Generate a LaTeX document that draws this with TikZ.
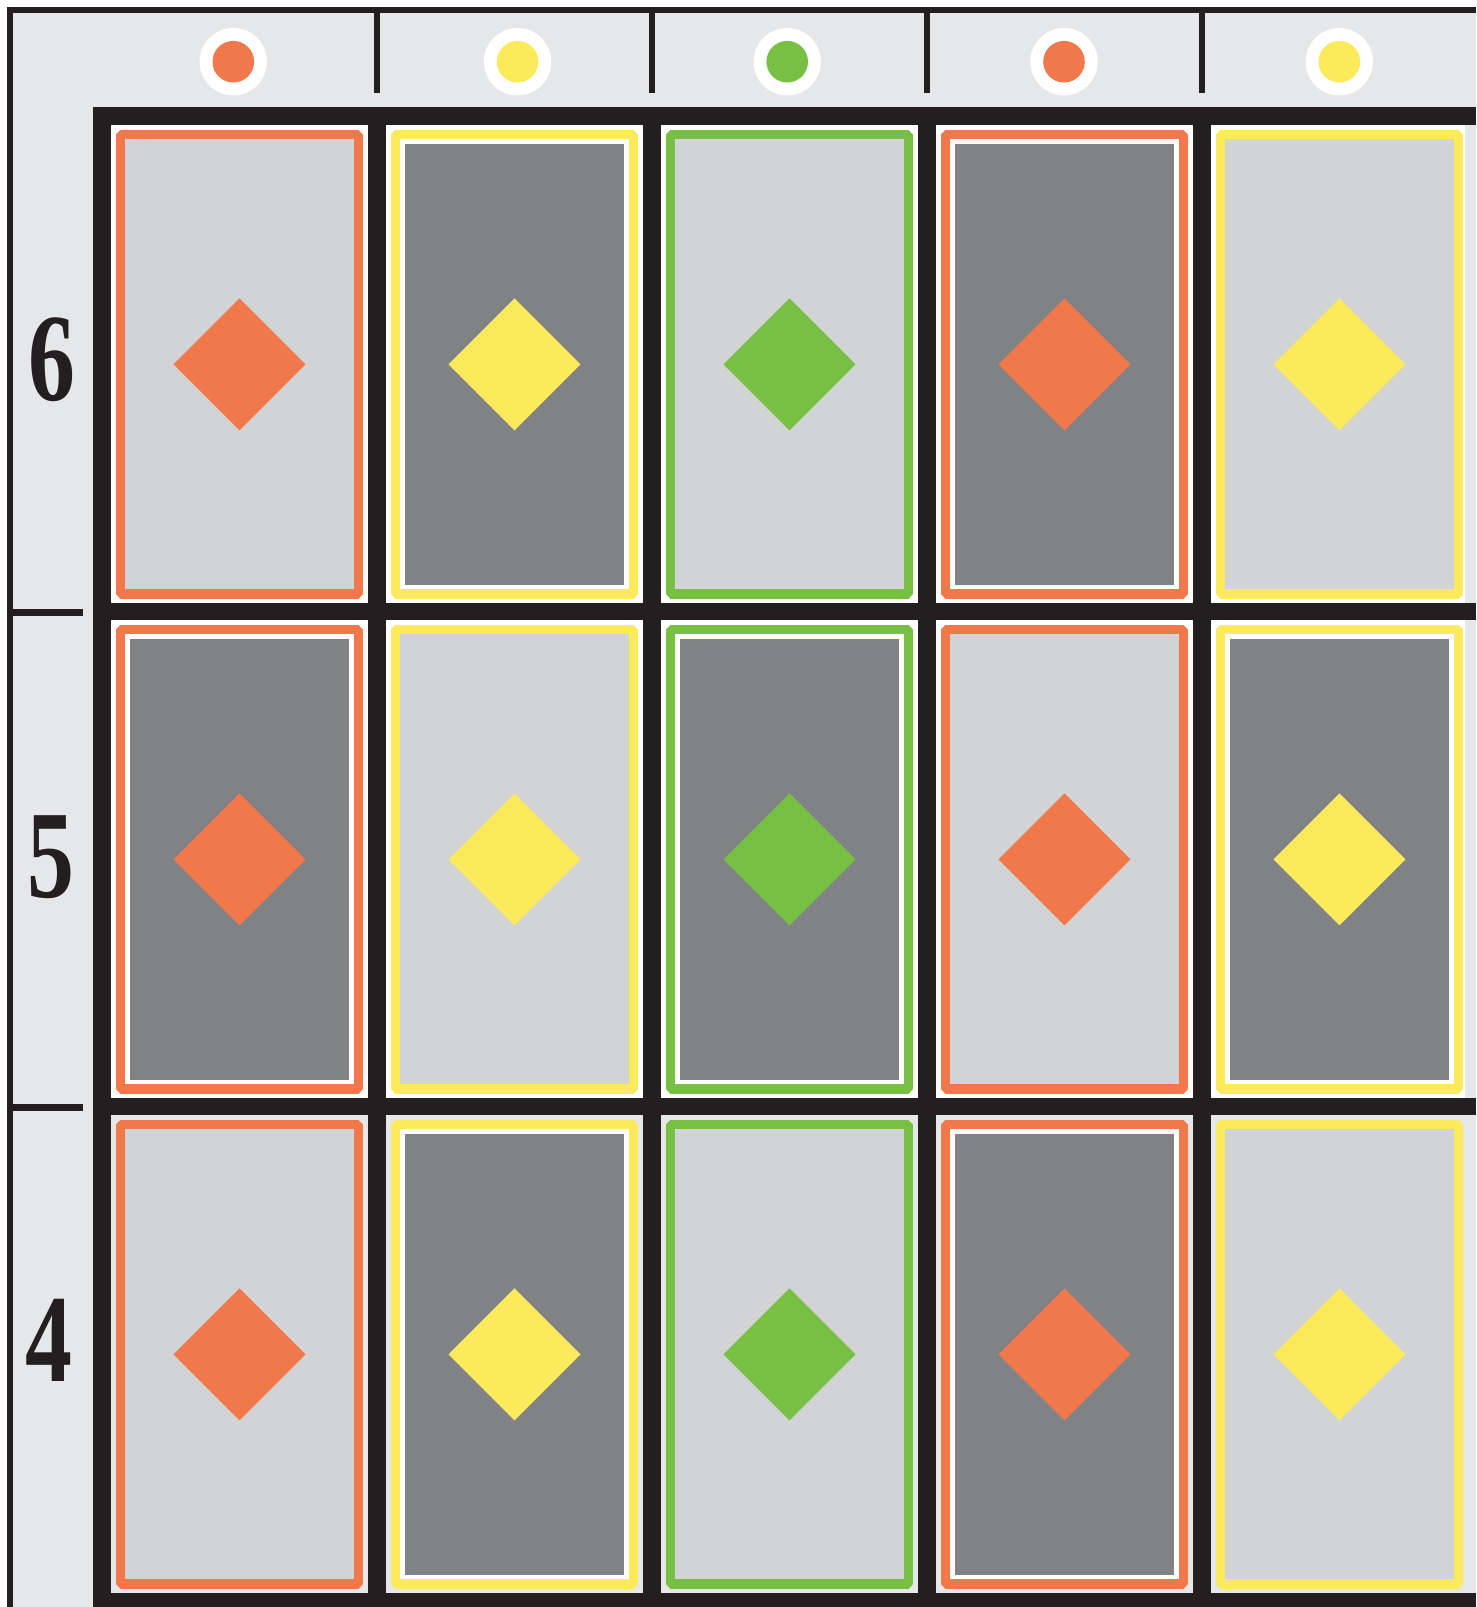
\documentclass[tikz,border=0pt]{standalone}
\usepackage{fontspec}
\newfontfamily\labfont{Liberation Serif}
\definecolor{bgl}{HTML}{E6E7E8}
\definecolor{blk}{HTML}{231F20}
\definecolor{lgc}{HTML}{D1D3D4}
\definecolor{dgc}{HTML}{808285}
\definecolor{cO}{HTML}{F0784A}
\definecolor{cY}{HTML}{FBEB5C}
\definecolor{cG}{HTML}{77C044}
\tikzset{
  rowlabel/.style={font=\labfont\bfseries\fontsize{125}{125}\selectfont, text=blk, inner sep=0pt, xscale=0.75},
  ringstyle/.style={circle, fill=white, minimum size=67.4pt, inner sep=0pt},
  dotstyle/.style={circle, minimum size=41.6pt, inner sep=0pt},
  tick/.style={fill=blk}
}
\begin{document}
\begin{tikzpicture}[x=1pt,y=-1pt]
\useasboundingbox (0,0) rectangle (1476,1607);
\fill[white] (0,0) rectangle (1476,1607);
\fill[bgl] (7,7) rectangle (1476,1607);
% outer frame lines
\fill[blk] (7,7) rectangle (1476,13.3);
\fill[blk] (7,7) rectangle (13.3,1607);
% header ticks
\foreach \x in {376.7,651.7,926.7,1201.7}
  \fill[tick] (\x-3.15,13) rectangle (\x+3.15,92.5);
\foreach \y in {612.5,1107.5}
  \fill[tick] (13,\y-3.15) rectangle (83,\y+3.15);
% header circles
\foreach \x/\c [count=\i] in {233.3/cO,517.6/cY,787.2/cG,1064/cO,1339.3/cY} {
  \node[ringstyle] (ring\i) at (\x,61.7) {};
  \node[dotstyle, fill=\c] (dot\i) at (\x,61.7) {};
}
% row labels
\node[rowlabel] (lab6) at (52,360) {6};
\node[rowlabel] (lab5) at (51,857) {5};
\node[rowlabel] (lab4) at (49,1340) {4};
% black grid
\fill[blk] (92.7,107.3) rectangle (1476,1607);
% cells
\foreach \r in {0,1,2} {
  \foreach \c/\col in {0/cO,1/cY,2/cG,3/cO,4/cY} {
    \pgfmathsetmacro\xl{111.2+275*\c}
    \pgfmathsetmacro\xr{367.8+275*\c}
    \pgfmathsetmacro\yt{125.3+495*\r}
    \pgfmathsetmacro\yb{603.3+495*\r}
    \pgfmathsetmacro\cx{(\xl+\xr)/2}
    \pgfmathsetmacro\cy{(\yt+\yb)/2}
    \pgfmathtruncatemacro\dark{mod(\r+\c,2)}
    \ifnum\r=2 \def\cellbg{bgl}\else\def\cellbg{white}\fi
    \ifnum\c=4
      \fill[\cellbg] (\xl,\yt) rectangle (1465,\yb);
      \fill[bgl] (1465,\yt) rectangle (1476,\yb);
    \else
      \fill[\cellbg] (\xl,\yt) rectangle (\xr,\yb);
    \fi
    \ifnum\dark=1
      \draw[\col, line width=9.4pt, line join=bevel, fill=white] (\xl+9.3,\yt+9.3) rectangle (\xr-9.3,\yb-9.3);
      \fill[dgc] (\xl+18.5,\yt+18.5) rectangle (\xr-18.5,\yb-18.5);
    \else
      \draw[\col, line width=9.4pt, line join=bevel, fill=lgc] (\xl+9.3,\yt+9.3) rectangle (\xr-9.3,\yb-9.3);
    \fi
    \fill[\col] (\cx,\cy-66) -- (\cx+66,\cy) -- (\cx,\cy+66) -- (\cx-66,\cy) -- cycle;
  }
}
\end{tikzpicture}
\end{document}
